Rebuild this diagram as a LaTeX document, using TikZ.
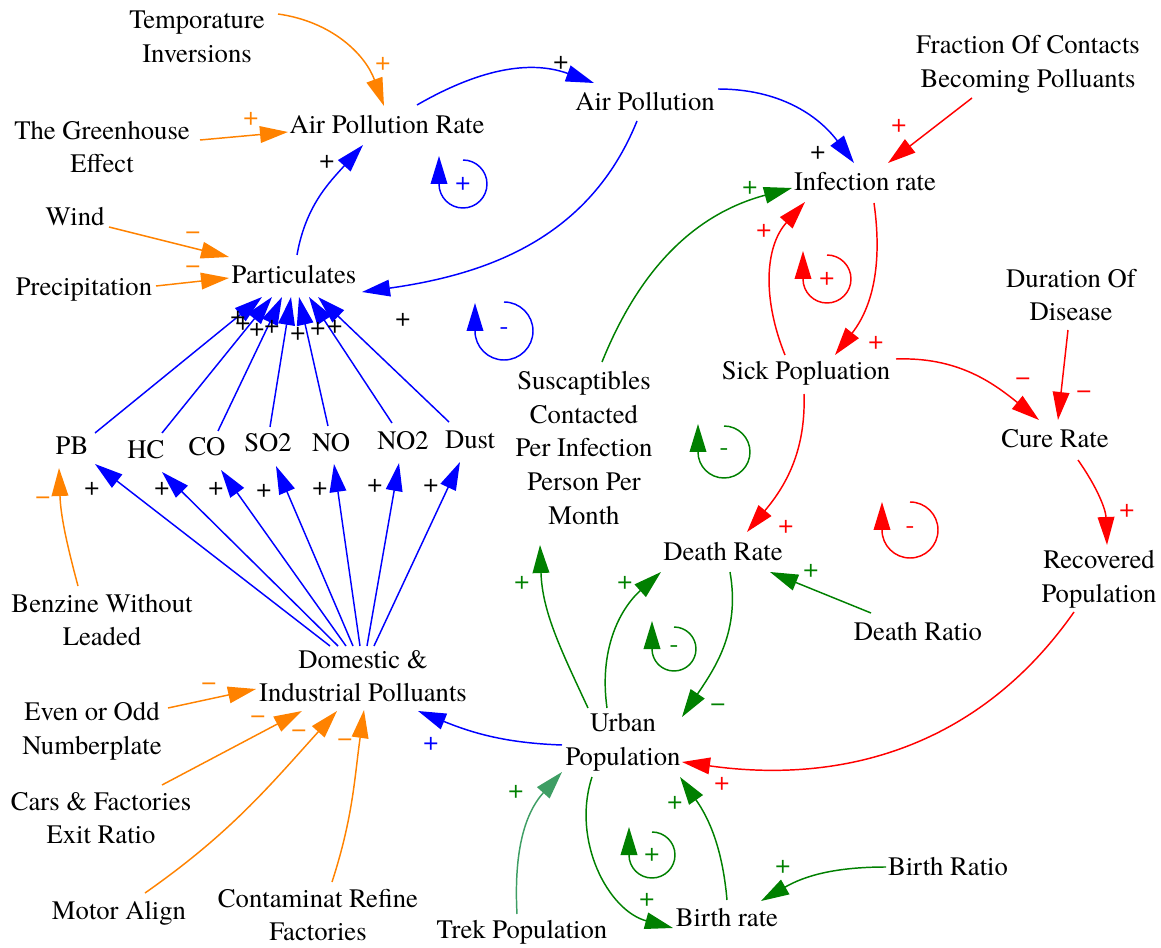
\documentclass[tikz,border=0pt]{standalone}
\usepackage{fontspec}
\IfFontExistsTF{texgyretermes-regular.otf}{\setmainfont{texgyretermes-regular.otf}}{%
  \IfFontExistsTF{LiberationSerif-Regular.ttf}{\setmainfont{LiberationSerif-Regular.ttf}}{\setmainfont{Liberation Serif}}}
\usetikzlibrary{arrows.meta,calc}
\definecolor{cOr}{RGB}{255,130,0}
\definecolor{cBl}{RGB}{0,0,255}
\definecolor{cRe}{RGB}{255,0,0}
\definecolor{cGr}{RGB}{0,128,0}
\definecolor{cTk}{RGB}{62,158,100}
\begin{document}
\begin{tikzpicture}[x=0.75pt,y=0.75pt,
  every node/.style={font=\fontsize{20}{25.3}\selectfont, inner sep=0pt},
  lbl/.style={align=center},
  edge/.style={line width=1.1pt,-{Triangle[length=21pt,width=12.5pt]}},
  eB/.style={edge,draw=cBl},
  eO/.style={edge,draw=cOr},
  eR/.style={edge,draw=cRe},
  eG/.style={edge,draw=cGr},
  eT/.style={edge,draw=cTk},
  lpB/.style={edge,draw=cBl},
  lpR/.style={edge,draw=cRe},
  lpG/.style={edge,draw=cGr}]
\useasboundingbox (0,0) rectangle (1161,-948);
% ---------- nodes ----------
\node[lbl] (tin) at (197,-37) {Temporature\\Inversions};
\node (apr) at (387,-125) {Air Pollution Rate};
\node[lbl] (tge) at (102,-147) {The Greenhouse\\Effect};
\node (ap) at (645,-102) {Air Pollution};
\node[lbl] (fc) at (1028,-64) {Fraction Of Contacts\\Becoming Polluants};
\node (ir) at (865,-182) {Infection rate};
\node (wind) at (75,-217) {Wind};
\node (part) at (294,-275) {Particulates};
\node (prec) at (84,-290) {Precipitation};
\node (sick) at (806,-373) {Sick Popluation};
\node[lbl] (dur) at (1071,-295) {Duration Of\\Disease};
\node (cure) at (1055,-439) {Cure Rate};
\node[lbl] (sus) at (584,-448) {Suscaptibles\\Contacted\\Per Infection\\Person Per\\Month};
\node (pb) at (72,-446) {PB};
\node (hc) at (146,-450) {HC};
\node (co) at (207,-447) {CO};
\node (so2) at (268,-443) {SO2};
\node (no) at (331,-443) {NO};
\node (no2) at (403,-441) {NO2};
\node (dust) at (470,-440) {Dust};
\node (dr) at (723,-552) {Death Rate};
\node[lbl] (rec) at (1099,-579) {Recovered\\Population};
\node[lbl] (benz) at (102,-620) {Benzine Without\\Leaded};
\node (dratio) at (918,-632) {Death Ratio};
\node[lbl] (dom) at (363,-676) {Domestic \&\\Industrial Polluants};
\node[lbl] (urban) at (623,-742) {Urban\\Population};
\node[lbl] (even) at (92,-731) {Even or Odd\\Numberplate};
\node[lbl] (cars) at (101,-818) {Cars \& Factories\\Exit Ratio};
\node (motor) at (119,-913) {Motor Align};
\node[lbl] (cont) at (318,-915) {Contaminat Refine\\Factories};
\node (trek) at (522,-932) {Trek Population};
\node (birth) at (727,-918) {Birth rate};
\node (bratio) at (948,-867) {Birth Ratio};
% ---------- connectors ----------
\draw[eO] ($(tin)+(81,23)$) to[out=-8,in=110] ($(apr)+(-3,19)$);
\draw[eO] ($(tge)+(98,7)$) -- ($(apr)+(-99,-7)$);
\draw[eB] ($(part)+(3,20)$) to[out=80,in=228] ($(apr)+(-24,-20)$);
\draw[eB] ($(apr)+(30,20)$) to[out=30,in=160] ($(ap)+(-51,19)$);
\draw[eB] ($(ap)+(73,13)$) to[out=0,in=127] ($(ir)+(-11,19)$);
\draw[eB] ($(ap)+(-8,-19)$) to[out=-112,in=8] ($(part)+(68,-17)$);
\draw[eR] ($(fc)+(-56,-34)$) -- ($(ir)+(23,19)$);
\draw[eO] ($(wind)+(34,-10)$) -- ($(part)+(-65,18)$);
\draw[eO] ($(prec)+(72,4)$) -- ($(part)+(-65,-3)$);
\draw[eB] ($(pb)+(23,13)$) -- ($(part)+(-32,-22)$);
\draw[eB] ($(hc)+(16,17)$) -- ($(part)+(-22,-22)$);
\draw[eB] ($(co)+(11,16)$) -- ($(part)+(-12,-22)$);
\draw[eB] ($(so2)+(2,16)$) -- ($(part)+(-3,-22)$);
\draw[eB] ($(no)+(-3,17)$) -- ($(part)+(5,-22)$);
\draw[eB] ($(no2)+(-11,18)$) -- ($(part)+(15,-22)$);
\draw[eB] ($(dust)+(-21,18)$) -- ($(part)+(24,-22)$);
\draw[eB] ($(dom)+(-33,30)$) -- ($(pb)+(23,-18)$);
\draw[eB] ($(dom)+(-25,30)$) -- ($(hc)+(16,-22)$);
\draw[eB] ($(dom)+(-17,30)$) -- ($(co)+(14,-23)$);
\draw[eB] ($(dom)+(-10,30)$) -- ($(so2)+(8,-23)$);
\draw[eB] ($(dom)+(-3,30)$) -- ($(no)+(3,-21)$);
\draw[eB] ($(dom)+(4,30)$) -- ($(no2)+(-4,-22)$);
\draw[eB] ($(dom)+(11,30)$) -- ($(dust)+(-10,-22)$);
\draw[eO] ($(benz)+(-24,34)$) to[out=105,in=-88] ($(pb)+(-13,-22)$);
\draw[eO] ($(even)+(76,23)$) -- ($(dom)+(-107,-13)$);
\draw[eO] ($(cars)+(61,33)$) -- ($(dom)+(-61,-35)$);
\draw[eO] ($(motor)+(26,20)$) to[out=35,in=228] ($(dom)+(-26,-35)$);
\draw[eO] ($(cont)+(14,33)$) to[out=72,in=-98] ($(dom)+(1,-34)$);
\draw[eB] ($(urban)+(-61,-3)$) to[out=178,in=-22] ($(dom)+(55,-35)$);
\draw[eG] ($(sus)+(18,86)$) to[out=68,in=195] ($(ir)+(-73,-6)$);
\draw[eR] ($(ir)+(9,-21)$) to[out=-82,in=52] ($(sick)+(29,18)$);
\draw[eR] ($(sick)+(-21,18)$) to[out=112,in=228] ($(ir)+(-60,-20)$);
\draw[eR] ($(sick)+(90,14)$) to[out=2,in=141] ($(cure)+(-16,19)$);
\draw[eR] ($(dur)+(-3,-35)$) -- ($(cure)+(3,19)$);
\draw[eR] ($(cure)+(23,-21)$) to[out=-55,in=92] ($(rec)+(8,34)$);
\draw[eR] ($(sick)+(-2,-21)$) to[out=-88,in=50] ($(dr)+(24,20)$);
\draw[eR] ($(rec)+(-25,-33)$) to[out=-125,in=-8] ($(urban)+(59,-20)$);
\draw[eG] ($(dratio)+(-47,19)$) -- ($(dr)+(47,-20)$);
\draw[eG] ($(urban)+(-35,34)$) to[out=115,in=-88] ($(sus)+(-44,-97)$);
\draw[eG] ($(urban)+(-16,34)$) to[out=98,in=222] ($(dr)+(-62,-20)$);
\draw[eG] ($(dr)+(7,-20)$) to[out=-80,in=56] ($(urban)+(59,25)$);
\draw[eT] ($(trek)+(-5,18)$) to[out=93,in=228] ($(urban)+(-61,-30)$);
\draw[eG] ($(urban)+(-31,-35)$) to[out=-108,in=165] ($(birth)+(-54,-10)$);
\draw[eG] ($(birth)+(0,18)$) to[out=95,in=-55] ($(urban)+(57,-35)$);
\draw[eG] ($(bratio)+(-62,0)$) to[out=180,in=30] ($(birth)+(34,17)$);
% ---------- connector labels ----------
\node[text=cOr] (l1) at (383,-64) {+};
\node[text=cOr] (l2) at (251,-119) {+};
\node (l3) at (327,-162) {+};
\node (l4) at (561,-63) {+};
\node (l5) at (818,-153) {+};
\node (l6) at (403,-320) {+};
\node[text=cRe] (l7) at (899,-126) {+};
\node[text=cOr] (l8) at (193,-236) {−};
\node[text=cOr] (l9) at (193,-270) {−};
\node (p1) at (238,-318) {+};
\node (p2) at (243,-324) {+};
\node (p3) at (257,-330) {+};
\node (p4) at (272,-327) {+};
\node (p5) at (298,-334) {+};
\node (p6) at (318,-329) {+};
\node (p7) at (335,-327) {+};
\node (q1) at (92,-489) {+};
\node (q2) at (162,-489) {+};
\node (q3) at (216,-489) {+};
\node (q4) at (264,-491) {+};
\node (q5) at (320,-489) {+};
\node (q6) at (375,-486) {+};
\node (q7) at (431,-486) {+};
\node[text=cOr] (l12) at (43,-501) {−};
\node[text=cOr] (l13) at (209,-687) {−};
\node[text=cOr] (l14) at (258,-720) {−};
\node[text=cOr] (l15) at (299,-734) {−};
\node[text=cOr] (l16) at (345,-743) {−};
\node[text=cBl] (l17) at (431,-744) {+};
\node[text=cGr] (l18) at (750,-188) {+};
\node[text=cRe] (l19) at (876,-343) {+};
\node[text=cRe] (l20) at (764,-231) {+};
\node[text=cRe] (l21) at (1023,-382) {−};
\node[text=cRe] (l22) at (1084,-395) {−};
\node[text=cRe] (l23) at (1127,-511) {+};
\node[text=cRe] (l24) at (786,-527) {+};
\node[text=cRe] (l25) at (722,-784) {+};
\node[text=cGr] (l26) at (811,-571) {+};
\node[text=cGr] (l27) at (522,-583) {+};
\node[text=cGr] (l28) at (625,-583) {+};
\node[text=cGr] (l29) at (718,-708) {−};
\node[text=cGr] (l30) at (516,-792) {+};
\node[text=cGr] (l31) at (647,-900) {+};
\node[text=cGr] (l32) at (675,-803) {+};
\node[text=cGr] (l33) at (783,-867) {+};
% ---------- loop markers ----------
\node[text=cBl] (o1) at (463,-184) {+};
\draw[lpB] ($(o1)+(0,24)$) arc[start angle=90,end angle=-180,radius=24] -- ++(0,28);
\node[text=cBl] (o2) at (504,-331) {-};
\draw[lpB] ($(o2)+(0,29)$) arc[start angle=90,end angle=-180,radius=29] -- ++(0,28);
\node[text=cRe] (o3) at (827,-279) {+};
\draw[lpR] ($(o3)+(0,24)$) arc[start angle=90,end angle=-180,radius=24] -- ++(0,28);
\node[text=cGr] (o4) at (724,-452) {-};
\draw[lpG] ($(o4)+(0,26)$) arc[start angle=90,end angle=-180,radius=26] -- ++(0,28);
\node[text=cRe] (o5) at (910,-530) {-};
\draw[lpR] ($(o5)+(0,28)$) arc[start angle=90,end angle=-180,radius=28] -- ++(0,28);
\node[text=cGr] (o6) at (674,-649) {-};
\draw[lpG] ($(o6)+(0,22)$) arc[start angle=90,end angle=-180,radius=22] -- ++(0,28);
\node[text=cGr] (o7) at (652,-855) {+};
\draw[lpG] ($(o7)+(0,23)$) arc[start angle=90,end angle=-180,radius=23] -- ++(0,28);
\end{tikzpicture}
\end{document}
